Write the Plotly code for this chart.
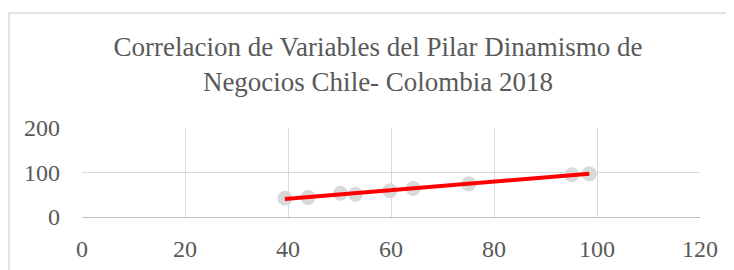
import numpy as np
import plotly.graph_objects as go

x_vals = [39.4, 43.9, 50.2, 53.1, 59.8, 64.3, 75.1, 95.1, 98.5]
y_vals = [42.0, 43.6, 53.5, 51.0, 59.0, 64.0, 74.5, 95.0, 97.0]
x_ticks = [0, 20, 40, 60, 80, 100, 120]
y_ticks = [0, 100, 200]
title_text = "Correlacion de Variables del Pilar Dinamismo de<br>Negocios Chile- Colombia 2018"

# page has an 8px body margin, so the figure is drawn 8px in from the window edge
W, H = 726, 262
L, R, T, B = 74, 34, 120, 53
pw, ph = W - L - R, H - T - B

slope, intercept = np.polyfit(x_vals, y_vals, 1)
fx = [min(x_vals), max(x_vals)]
fy = [slope * v + intercept for v in fx]

fig = go.Figure()
fig.add_trace(go.Scatter(x=x_vals, y=y_vals, mode="markers",
                         marker=dict(color="#d9d9d9", size=15, line=dict(width=0)),
                         showlegend=False, hoverinfo="skip", cliponaxis=False))
fig.add_trace(go.Scatter(x=fx, y=fy, mode="lines",
                         line=dict(color="#ff0000", width=4),
                         showlegend=False, hoverinfo="skip"))

font_family = "Liberation Serif, Times New Roman, serif"
fig.update_layout(
    width=W, height=H,
    margin=dict(l=L, r=R, t=T, b=B, pad=0, autoexpand=False),
    paper_bgcolor="white", plot_bgcolor="white",
    font=dict(family=font_family, color="#595959", size=24),
    title=dict(text=title_text, x=370 / W, xanchor="center",
               y=1 - 48 / H, yanchor="middle",
               font=dict(family=font_family, size=27, color="#595959")),
    xaxis=dict(range=[0, 120], tickvals=x_ticks, showgrid=True, gridcolor="#d9d9d9",
               gridwidth=1.3, zeroline=False, showline=True, linecolor="#bfbfbf",
               linewidth=1.3, mirror=False, ticks="", ticklabelstandoff=10,
               automargin=False, tickfont=dict(size=24, color="#595959")),
    yaxis=dict(range=[0, 200], tickvals=y_ticks, showgrid=True, gridcolor="#d9d9d9",
               gridwidth=1.3, zeroline=False, showline=False, ticks="",
               automargin=False, ticklabelstandoff=21,
               tickfont=dict(size=24, color="#595959")),
)

# outer chart border (light gray), extending beyond the visible window
x0 = (1 - L) / pw
x1 = (W + 30 - L) / pw
y1 = (H - B - 5) / ph
y0 = -(B + 30) / ph
fig.add_shape(type="rect", xref="paper", yref="paper", x0=x0, x1=x1, y0=y0, y1=y1,
              line=dict(color="#d9d9d9", width=1.5), layer="below")

fig.write_html("out.html")
